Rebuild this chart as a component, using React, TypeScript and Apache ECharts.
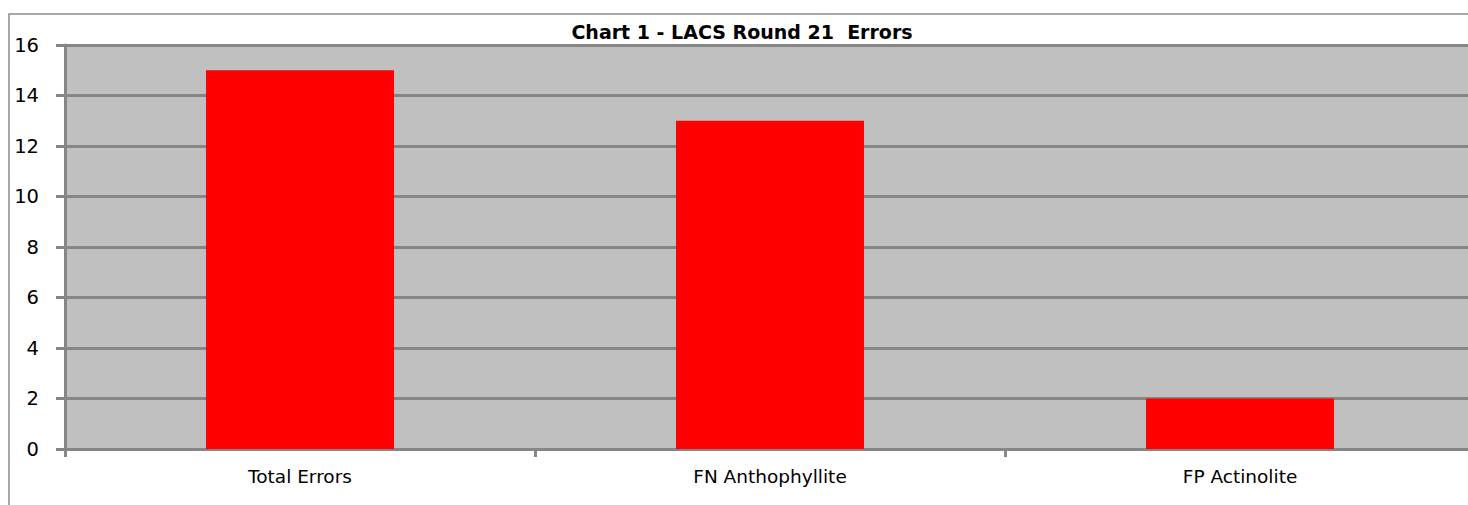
import React, { useEffect, useRef } from "react";
import * as echarts from "echarts";

const categories = ["Total Errors", "FN Anthophyllite", "FP Actinolite"];
const errorCounts = [15, 13, 2];
const chartTitle = "Chart 1 - LACS Round 21  Errors";

export default function App() {
  const ref = useRef<HTMLDivElement>(null);
  useEffect(() => {
    if (!ref.current) return;
    const chart = echarts.init(ref.current, null, { renderer: "svg" });
    const font = "Tahoma, 'DejaVu Sans', Verdana, sans-serif";
    const axisGray = "#868686";
    chart.setOption({
      animation: false,
      backgroundColor: "#ffffff",
      graphic: [
        {
          type: "rect",
          shape: { x: 9, y: 14, width: 1520, height: 600 },
          style: { fill: "none", stroke: "#a8a8a8", lineWidth: 2 },
          silent: true,
          z: 0,
        },
        {
          type: "text",
          x: 742,
          y: 32,
          style: {
            text: chartTitle,
            fill: "#000",
            font: `bold 19px ${font}`,
            textAlign: "center",
            textVerticalAlign: "middle",
          },
        },
      ],
      grid: {
        left: 65,
        top: 45,
        width: 1410,
        height: 404,
        show: true,
        backgroundColor: "#C0C0C0",
        borderWidth: 0,
        containLabel: false,
        outerBoundsMode: "none",
      },
      xAxis: {
        type: "category",
        data: categories,
        boundaryGap: true,
        axisLine: { show: true, lineStyle: { color: axisGray, width: 3 } },
        axisTick: { show: true, length: 8, lineStyle: { color: axisGray, width: 3 } },
        axisLabel: { color: "#000", fontSize: 18.5, fontFamily: font, margin: 18 },
        splitLine: { show: false },
      },
      yAxis: {
        type: "value",
        min: 0,
        max: 16,
        interval: 2,
        axisLine: { show: true, lineStyle: { color: axisGray, width: 3 } },
        axisTick: { show: true, length: 9, lineStyle: { color: axisGray, width: 3 } },
        axisLabel: { color: "#000", fontSize: 19.5, fontFamily: font, margin: 26 },
        splitLine: { show: true, lineStyle: { color: axisGray, width: 3 } },
      },
      series: [
        {
          type: "bar",
          data: errorCounts,
          barCategoryGap: "60%",
          itemStyle: { color: "#FF0000" },
        },
      ],
    });
    return () => chart.dispose();
  }, []);
  return (
    <div
      ref={ref}
      style={{ position: "fixed", left: 0, top: 0, width: 1468, height: 505 }}
    />
  );
}
